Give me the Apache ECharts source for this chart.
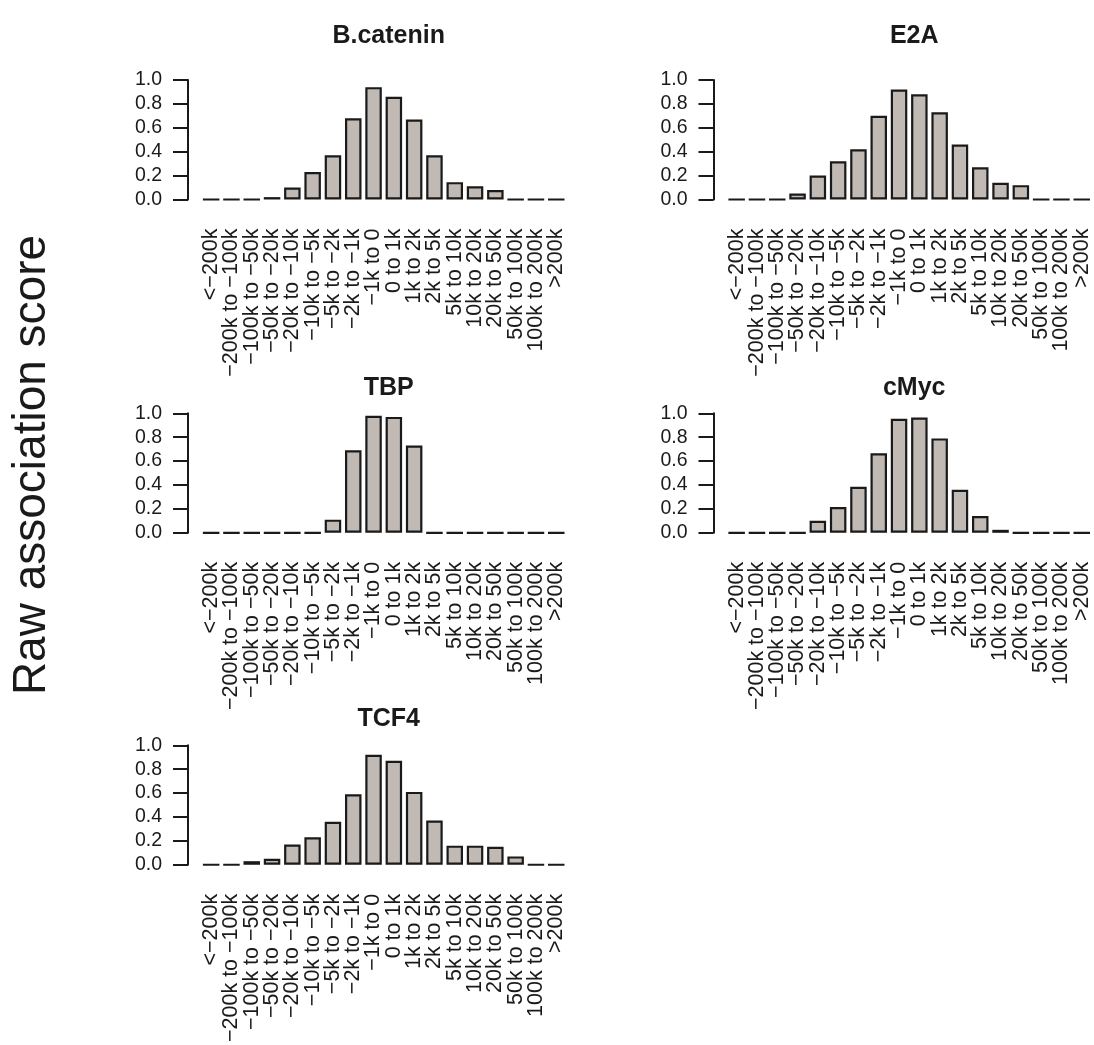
<!DOCTYPE html>
<html>
<head>
<meta charset="utf-8">
<script src="https://cdn.jsdelivr.net/npm/echarts@6/dist/echarts.min.js"></script>
<style>
  html, body { margin: 0; padding: 0; background: #fff; }
  #chart { width: 1094px; height: 1045px; }
</style>
</head>
<body>
<div id="chart"></div>
<script>
// Distance bins (relative to TSS)
const bins = [
  '<\u2212200k', '\u2212200k to \u2212100k', '\u2212100k to \u221250k', '\u221250k to \u221220k',
  '\u221220k to \u221210k', '\u221210k to \u22125k', '\u22125k to \u22122k', '\u22122k to \u22121k',
  '\u22121k to 0', '0 to 1k', '1k to 2k', '2k to 5k', '5k to 10k', '10k to 20k',
  '20k to 50k', '50k to 100k', '100k to 200k', '>200k'
];

// Raw association score per factor
const bCatenin = [0, 0, 0, 0.02, 0.10, 0.23, 0.37, 0.68, 0.94, 0.86, 0.67, 0.37, 0.145, 0.11, 0.08, 0, 0, 0];
const e2a      = [0, 0, 0, 0.05, 0.20, 0.32, 0.42, 0.70, 0.92, 0.88, 0.73, 0.46, 0.27, 0.14, 0.12, 0, 0, 0];
const tbp      = [0, 0, 0, 0, 0, 0, 0.11, 0.69, 0.98, 0.97, 0.73, 0, 0, 0, 0, 0, 0, 0];
const cMyc     = [0, 0, 0, 0, 0.10, 0.215, 0.385, 0.665, 0.955, 0.965, 0.79, 0.36, 0.14, 0.025, 0, 0, 0, 0];
const tcf4     = [0, 0, 0.03, 0.05, 0.17, 0.23, 0.36, 0.59, 0.92, 0.87, 0.61, 0.37, 0.16, 0.16, 0.15, 0.07, 0, 0];

const yTicks = [0, 0.2, 0.4, 0.6, 0.8, 1.0];

const panels = [
  { name: 'B.catenin', data: bCatenin, left: 201,   top: 80,    titleY: 31 },
  { name: 'E2A',       data: e2a,      left: 726.5, top: 80,    titleY: 31 },
  { name: 'TBP',       data: tbp,      left: 201,   top: 413.3, titleY: 383 },
  { name: 'cMyc',      data: cMyc,     left: 726.5, top: 413.3, titleY: 383 },
  { name: 'TCF4',      data: tcf4,     left: 201,   top: 745.3, titleY: 714 }
];

const FONT = '"Liberation Sans", Arial, Helvetica, sans-serif';
const GRID_W = 365.4;
const GRID_H = 119.5;
const INK = '#1a1a1a';

const chart = echarts.init(document.getElementById('chart'), null, { renderer: 'canvas' });

const option = {
  animation: false,
  backgroundColor: '#ffffff',
  title: panels.map(p => ({
    text: p.name,
    left: p.left + GRID_W / 2,
    top: p.titleY,
    textAlign: 'center',
    textVerticalAlign: 'middle',
    textStyle: { fontFamily: FONT, fontWeight: 'bold', fontSize: 25, color: INK }
  })),
  grid: panels.map(p => ({
    left: p.left, top: p.top, width: GRID_W, height: GRID_H, containLabel: false
  })),
  xAxis: panels.map((p, i) => ({
    type: 'category',
    gridIndex: i,
    data: bins,
    boundaryGap: true,
    axisLine: { show: false },
    axisTick: { show: false },
    axisLabel: {
      rotate: 90,
      interval: 0,
      margin: 29,
      fontFamily: FONT,
      fontSize: 21.5,
      color: INK
    }
  })),
  yAxis: panels.map((p, i) => ({
    type: 'value',
    gridIndex: i,
    min: 0,
    max: 1,
    interval: 0.2,
    offset: 13,
    splitLine: { show: false },
    axisLine: { show: true, lineStyle: { color: INK, width: 2 } },
    axisTick: { show: true, inside: false, length: 15, lineStyle: { color: INK, width: 2 } },
    axisLabel: {
      margin: 26,
      fontFamily: FONT,
      fontSize: 19.5,
      color: INK,
      formatter: v => (yTicks.includes(+v.toFixed(1)) ? v.toFixed(1) : '')
    }
  })),
  series: panels.map((p, i) => ({
    type: 'bar',
    name: p.name,
    xAxisIndex: i,
    yAxisIndex: i,
    data: p.data,
    barWidth: 16.5,
    itemStyle: { color: '#c1b9b4', borderColor: INK, borderWidth: 2.2 }
  })),
  graphic: [{
    type: 'text',
    x: 32,
    y: 465,
    rotation: Math.PI / 2,
    style: {
      text: 'Raw association score',
      fontFamily: FONT,
      fontSize: 46,
      fill: INK,
      textAlign: 'center',
      textVerticalAlign: 'middle'
    }
  }]
};

chart.setOption(option);
</script>
</body>
</html>
